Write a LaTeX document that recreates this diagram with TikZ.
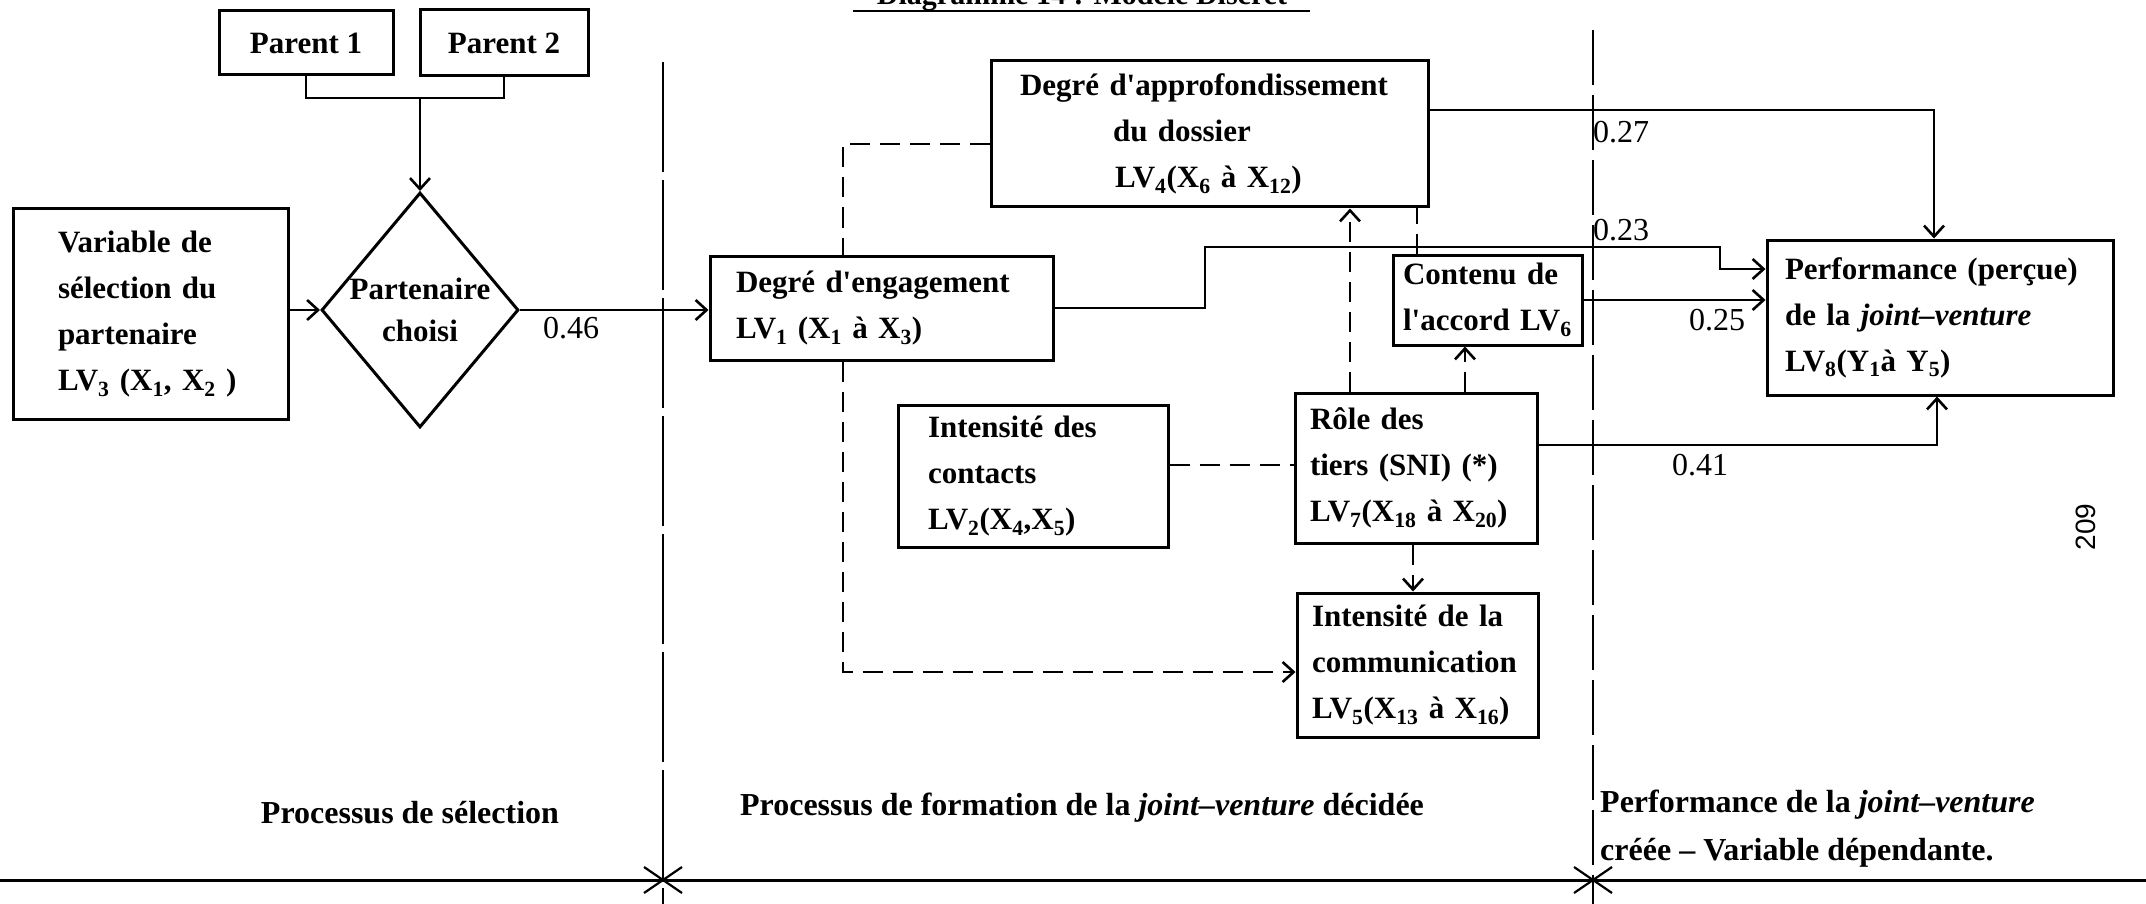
\documentclass[tikz,border=0pt]{standalone}
\usepackage{fontspec}
\setmainfont{Liberation Serif}
\newfontfamily\pagefont{Liberation Sans}
\usetikzlibrary{arrows.meta,shapes.geometric}
\newcommand\sbs[1]{\textsubscript{#1}}
\newcommand\apo{\textquotesingle}
\begin{document}
\begin{tikzpicture}[x=1pt,y=-1pt,
  box/.style={draw, rectangle, line width=3pt, inner ysep=2pt, align=left, font=\bfseries\fontsize{31}{46}\selectfont},
  lbl/.style={font=\fontsize{32}{36}\selectfont, inner sep=0pt},
  captxt/.style={font=\bfseries\fontsize{32}{48}\selectfont, inner sep=0pt, align=left},
  conn/.style={line width=2.6pt},
  arr/.style={conn, -{Straight Barb[length=11pt,width=20pt]}},
  dsh/.style={conn, dash pattern=on 20pt off 10pt},
  divider/.style={line width=2.6pt}
]
\useasboundingbox (0,0) rectangle (2146,904);
\fill[white] (0,0) rectangle (2146,904);

% title (cut off at top)
\node[anchor=base, font=\bfseries\fontsize{30}{30}\selectfont, inner sep=0pt] (title) at (1082,5) {Diagramme 14 : Modèle Discret};
\draw[line width=2.5pt] (853,11) -- (1310,11);

% boxes
\node[box, align=center, minimum width=174pt, minimum height=64pt] (P1) at (306,43) {Parent 1};
\node[box, align=center, minimum width=168pt, minimum height=66pt] (P2) at (504,43) {Parent 2};
\node[box, text width=185pt, inner xsep=45pt, minimum height=210pt] (LV3) at (150.5,314)
  {Variable de\\sélection du\\partenaire\\LV\sbs{3} (X\sbs{1}, X\sbs{2} )};
\node[draw, diamond, line width=3pt, minimum width=197pt, minimum height=235pt, inner sep=0pt,
  label={[font=\bfseries\fontsize{31}{42}\selectfont, align=center]center:Partenaire\\choisi}] (D) at (420,310) {};
\node[box, text width=291pt, inner xsep=26pt, minimum height=104pt] (LV1) at (881.5,308)
  {Degré d\apo engagement\\LV\sbs{1} (X\sbs{1} à X\sbs{3})};
\node[box, text width=379pt, inner xsep=29pt, minimum height=146pt] (LV4) at (1209.5,134)
  {Degré d\apo approfondissement\\\hspace*{93pt}du dossier\\\hspace*{95pt}LV\sbs{4}(X\sbs{6} à X\sbs{12})};
\node[box, text width=169pt, inner xsep=10pt, minimum height=90pt] (Cont) at (1487.5,300)
  {Contenu de\\l\apo accord~LV\sbs{6}};
\node[box, text width=310pt, inner xsep=18pt, minimum height=155pt] (LV8) at (1940,317.5)
  {Performance (perçue)\\de la \textit{joint–venture}\\LV\sbs{8}(Y\sbs{1}à Y\sbs{5})};
\node[box, text width=210pt, inner xsep=30pt, minimum height=142pt] (C2) at (1033,476)
  {Intensité des\\contacts\\LV\sbs{2}(X\sbs{4},X\sbs{5})};
\node[box, text width=212pt, inner xsep=15pt, minimum height=150pt] (R) at (1416,468)
  {Rôle des\\tiers (SNI) (*)\\LV\sbs{7}(X\sbs{18} à X\sbs{20})};
\node[box, text width=211pt, inner xsep=15pt, minimum height=144pt] (C5) at (1417.5,665)
  {Intensité de la\\communication\\LV\sbs{5}(X\sbs{13} à X\sbs{16})};

% connectors
\coordinate (j) at (420,98);
\draw[conn] (P1.south) |- (j) -| (P2.south);
\draw[arr] (j) -- (D.north);
\draw[arr] (LV3.east |- D.west) -- (D.west);
\draw[arr] (D.east) -- (D.east -| LV1.west);
\draw[dsh] ([yshift=-10pt]LV4.west) -| ([xshift=-38.5pt]LV1.north);
\draw[dsh, -{Straight Barb[length=11pt,width=20pt]}] ([xshift=-38.5pt]LV1.south) |- ([yshift=-7pt]C5.west);
\draw[arr] ([yshift=24pt]LV4.east) -| ([xshift=-6pt]LV8.north);
\draw[arr] (LV1.east) -| (1205,247) -| (1720,269) -- ([yshift=48.5pt]LV8.west);
\draw[dsh] ([xshift=-70.5pt]Cont.north) -- ([xshift=-70.5pt]Cont.north |- LV4.south);
\draw[dsh, -{Straight Barb[length=11pt,width=20pt]}] ([xshift=-66pt]R.north) -- ([xshift=-66pt]R.north |- LV4.south);
\draw[dsh, -{Straight Barb[length=11pt,width=20pt]}] ([xshift=-22.5pt]Cont.south |- R.north) -- ([xshift=-22.5pt]Cont.south);
\draw[arr] (Cont.east) -- (Cont.east -| LV8.west);
\draw[arr] ([yshift=23pt]R.east) -| ([xshift=-3pt]LV8.south);
\draw[dsh] ([yshift=11pt]C2.east) -- ([yshift=11pt]C2.east -| R.west);
\draw[dsh, -{Straight Barb[length=11pt,width=20pt]}] ([xshift=-3pt]R.south) -- ([xshift=-3pt]R.south |- C5.north);

% coefficient labels
\node[lbl] (l046) at (571,328) {0.46};
\node[lbl] (l027) at (1621,132) {0.27};
\node[lbl] (l023) at (1621,230) {0.23};
\node[lbl] (l025) at (1717,320) {0.25};
\node[lbl] (l041) at (1700,465) {0.41};

% dividers and baseline
\draw[divider, dash pattern=on 110pt off 8pt] (663,62) -- (663,904);
\draw[divider, dash pattern=on 55pt off 10pt] (1593,30) -- (1593,904);
\draw[line width=3pt] (0,880) -- (2146,880);
\draw[line width=2.2pt] (644,867) -- (682,893) (644,893) -- (682,867);
\draw[line width=2.2pt] (1574,867) -- (1612,893) (1574,893) -- (1612,867);

% captions
\node[captxt] (capA) at (410,813) {Processus de sélection};
\node[captxt] (capB) at (1082,808) {Processus de formation de la \textit{joint–venture} décidée};
\node[captxt, anchor=west] (capC) at (1600,829) {Performance de la \textit{joint–venture}\\créée – Variable dépendante.};

% page number
\node[rotate=90, font=\pagefont\fontsize{28}{30}\selectfont, inner sep=0pt] (pg) at (2086,527) {209};
\end{tikzpicture}
\end{document}
